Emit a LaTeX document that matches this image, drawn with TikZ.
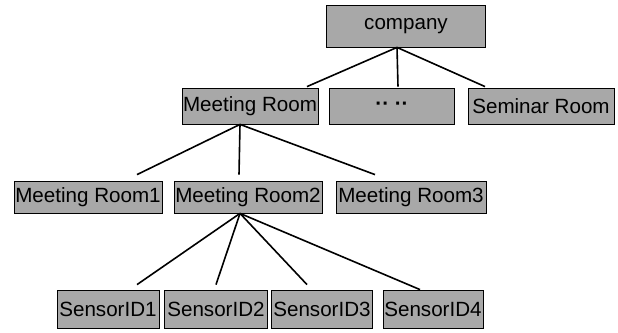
\documentclass[tikz,border=0pt]{standalone}
\usepackage{fontspec}
\setmainfont{Liberation Sans}
\begin{document}
\begin{tikzpicture}[x=1pt, y=-1pt,
    every node/.style={font=\fontsize{20.6}{22}\selectfont},
    box/.style={rectangle, draw=black, fill=black!34, line width=0.8pt, inner sep=0pt, align=center},
    top/.style={box, minimum width=159pt, minimum height=42pt},
    room/.style={box, minimum height=36pt},
    sub/.style={box, minimum height=32pt},
    sensor/.style={box, minimum height=38pt},
    link/.style={line width=1.6pt, black}
  ]
    \useasboundingbox (0,0) rectangle (618,332);

    % level 0
    \node[top] (company) at (406,26) {company};

    % level 1
    \node[room, minimum width=136pt] (mroom) at (250,106) {Meeting Room};
    \node[room, minimum width=125pt] (dots) at (392,106) {\bfseries ·· ··};
    \node[room, minimum width=146pt] (seminar) at (541,106) {Seminar Room};

    % level 2
    \node[sub, minimum width=148pt] (mroom1) at (88,197) {Meeting Room1};
    \node[sub, minimum width=148pt] (mroom2) at (248,197) {Meeting Room2};
    \node[sub, minimum width=150pt] (mroom3) at (411,197) {Meeting Room3};

    % level 3
    \node[sensor, minimum width=102pt] (sensor1) at (108,309) {SensorID1};
    \node[sensor, minimum width=103pt] (sensor2) at (216,309) {SensorID2};
    \node[sensor, minimum width=101pt] (sensor3) at (322,309) {SensorID3};
    \node[sensor, minimum width=100pt] (sensor4) at (433,309) {SensorID4};

    \draw[link] ([xshift=-9pt]company.south) -- ([xshift=57pt, yshift=1pt]mroom.north);
    \draw[link] ([xshift=-9pt]company.south) -- ([xshift=6pt, yshift=1pt]dots.north);
    \draw[link] ([xshift=-9pt]company.south) -- ([xshift=-56pt, yshift=1pt]seminar.north);

    \draw[link] ([xshift=-10pt]mroom.south) -- ([xshift=49pt, yshift=6pt]mroom1.north);
    \draw[link] ([xshift=-10pt]mroom.south) -- ([xshift=-9pt, yshift=6pt]mroom2.north);
    \draw[link] ([xshift=-10pt]mroom.south) -- ([xshift=-36pt, yshift=6pt]mroom3.north);

    \draw[link] ([xshift=-8pt]mroom2.south) -- ([xshift=29pt, yshift=5pt]sensor1.north);
    \draw[link] ([xshift=-8pt]mroom2.south) -- ([xshift=0pt, yshift=5pt]sensor2.north);
    \draw[link] ([xshift=-8pt]mroom2.south) -- ([xshift=-15pt, yshift=5pt]sensor3.north);
    \draw[link] ([xshift=-8pt]mroom2.south) -- ([xshift=-13pt]sensor4.north);
\end{tikzpicture}
\end{document}
